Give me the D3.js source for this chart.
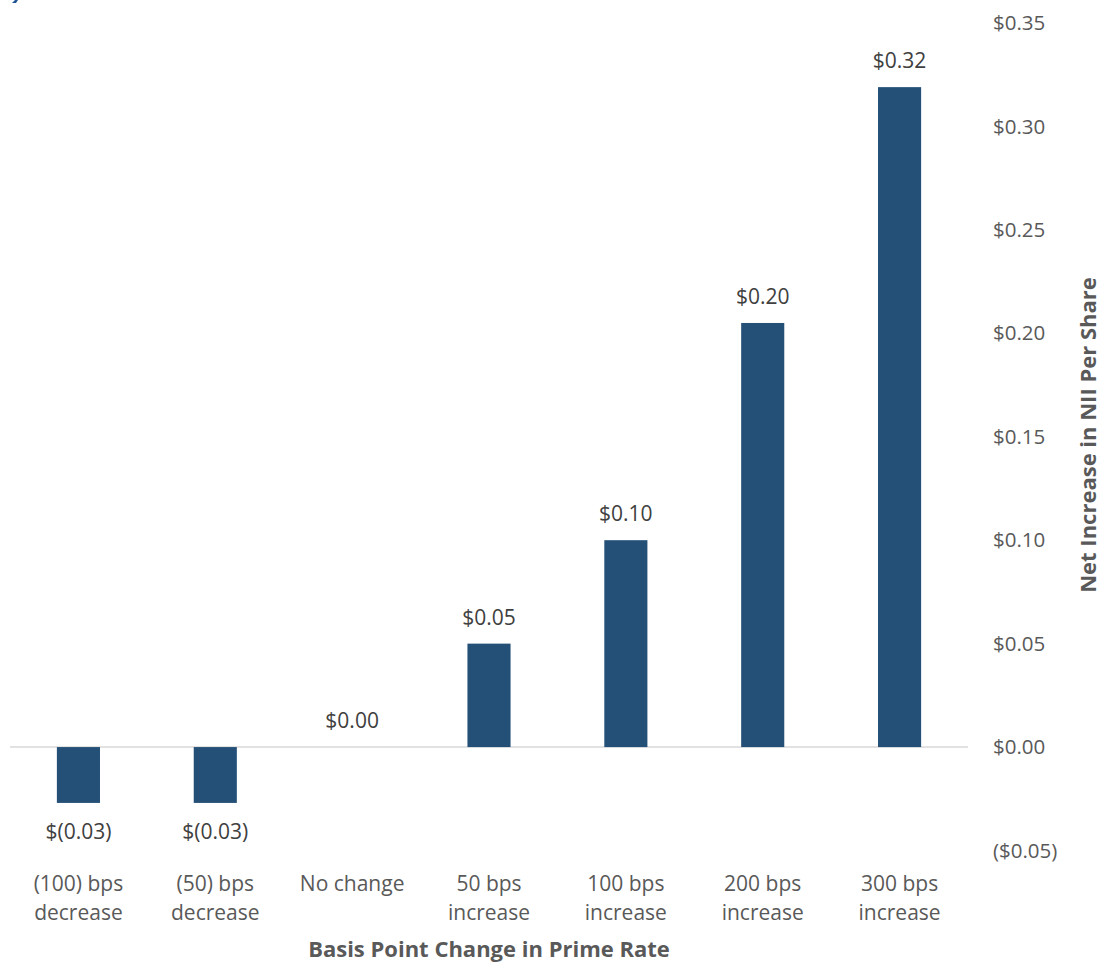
<!DOCTYPE html>
<html>
<head>
<meta charset="utf-8">
<script src="https://cdn.jsdelivr.net/npm/d3@7"></script>
<style>
  body { margin: 0; background: #fff; }
  text { font-family: "Open Sans", "Noto Sans", sans-serif; }
</style>
</head>
<body>
<svg id="chart" width="1105" height="963"></svg>
<script>
// data
var categories = [
	["(100) bps", "decrease"],
	["(50) bps", "decrease"],
	["No change"],
	["50 bps", "increase"],
	["100 bps", "increase"],
	["200 bps", "increase"],
	["300 bps", "increase"]
];
var values = [-0.027, -0.027, 0, 0.05, 0.10, 0.205, 0.319];
var valueLabels = ["$(0.03)", "$(0.03)", "$0.00", "$0.05", "$0.10", "$0.20", "$0.32"];
var yTicks = [-0.05, 0, 0.05, 0.10, 0.15, 0.20, 0.25, 0.30, 0.35];

var svg = d3.select("#chart");

var x = d3.scaleBand()
	.domain(d3.range(categories.length))
	.range([10, 968])
	.padding(0);

var y = d3.scaleLinear()
	.domain([-0.05, 0.35])
	.range([850.5, 23]);

var barW = x.bandwidth() * 0.315;
var textCol = "#595959";

// zero line
svg.append("line")
	.attr("x1", 10).attr("x2", 968)
	.attr("y1", y(0)).attr("y2", y(0))
	.attr("stroke", "#d9d9d9")
	.attr("stroke-width", 1.5);

// bars
svg.selectAll(".bar")
	.data(values)
	.enter()
	.append("rect")
	.attr("class", "bar")
	.attr("x", (d, i) => x(i) + x.bandwidth() / 2 - barW / 2)
	.attr("y", d => y(Math.max(0, d)))
	.attr("width", barW)
	.attr("height", d => Math.abs(y(d) - y(0)))
	.attr("fill", "#245078");

// value labels
svg.selectAll(".vlabel")
	.data(values)
	.enter()
	.append("text")
	.attr("class", "vlabel")
	.attr("x", (d, i) => x(i) + x.bandwidth() / 2)
	.attr("y", d => d < 0 ? y(d) + 36 : y(d) - 19)
	.attr("text-anchor", "middle")
	.attr("font-size", 21)
	.attr("fill", "#404040")
	.text((d, i) => valueLabels[i]);

// y axis on the right, labels only
var yAxis = d3.axisRight(y)
	.tickValues(yTicks)
	.tickSize(0)
	.tickPadding(0)
	.tickFormat(d => Math.abs(d) < 1e-9 ? "$0.00" : (d < 0 ? "($" + Math.abs(d).toFixed(2) + ")" : "$" + d.toFixed(2)));

var gY = svg.append("g")
	.attr("transform", "translate(993,0)")
	.call(yAxis);
gY.select(".domain").remove();
gY.selectAll("text")
	.attr("font-size", 20.5)
	.attr("fill", textCol)
	.attr("font-family", "Open Sans, Noto Sans, sans-serif");

// category labels
var catG = svg.selectAll(".cat")
	.data(categories)
	.enter()
	.append("text")
	.attr("class", "cat")
	.attr("text-anchor", "middle")
	.attr("font-size", 21)
	.attr("fill", textCol)
	.attr("x", (d, i) => x(i) + x.bandwidth() / 2)
	.attr("y", 891);

catG.selectAll("tspan")
	.data(d => d)
	.enter()
	.append("tspan")
	.attr("x", function () { return d3.select(this.parentNode).attr("x"); })
	.attr("dy", (d, i) => i === 0 ? 0 : 29)
	.text(d => d);

// axis titles
svg.append("text")
	.attr("x", 489)
	.attr("y", 957)
	.attr("text-anchor", "middle")
	.attr("font-size", 22)
	.attr("font-weight", "bold")
	.attr("fill", textCol)
	.text("Basis Point Change in Prime Rate");

svg.append("text")
	.attr("transform", "translate(1096,435) rotate(-90)")
	.attr("text-anchor", "middle")
	.attr("font-size", 22)
	.attr("font-weight", "bold")
	.attr("fill", textCol)
	.text("Net Increase in NII Per Share");

// clipped title mark at the top left
svg.append("path")
	.attr("d", "M12,3 L15,0 L18,0 L16,3 Z")
	.attr("fill", "#1f5596");
</script>
</body>
</html>
